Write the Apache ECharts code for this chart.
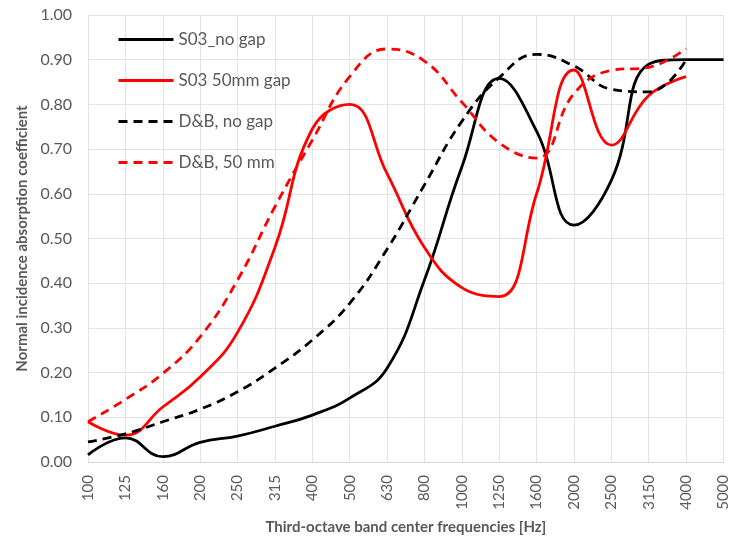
<!DOCTYPE html>
<html>
<head>
<meta charset="utf-8">
<script src="https://cdn.jsdelivr.net/npm/echarts@6/dist/echarts.min.js"></script>
<style>html,body{margin:0;padding:0;background:#fff}#c{width:731px;height:542px}</style>
</head>
<body>
<div id="c"></div>
<script>
var categories = ['100','125','160','200','250','315','400','500','630','800','1000','1250','1600','2000','2500','3150','4000','5000'];
var s03NoGap   = [0.016,0.054,0.012,0.044,0.058,0.080,0.105,0.143,0.210,0.407,0.660,0.858,0.740,0.530,0.630,0.890,0.900,0.900];
var s03Gap50   = [0.090,0.060,0.123,0.190,0.290,0.480,0.745,0.800,0.645,0.480,0.390,0.370,0.600,0.877,0.709,0.820,0.862,null];
var dbNoGap    = [0.045,0.063,0.090,0.118,0.157,0.210,0.273,0.355,0.476,0.620,0.762,0.860,0.912,0.886,0.834,0.828,0.900,null];
var db50       = [0.090,0.140,0.198,0.280,0.407,0.571,0.720,0.862,0.924,0.897,0.805,0.714,0.680,0.824,0.876,0.883,0.925,null];
var yTicks = [0,0.1,0.2,0.3,0.4,0.5,0.6,0.7,0.8,0.9,1.0];

var chart = echarts.init(document.getElementById('c'), null, {renderer:'canvas'});
var txt = '#595959';
var font = 'Lato, "Open Sans", sans-serif';
function ser(name, data, color, dashed) {
  return {
    name: name, type: 'line', data: data, smooth: 0.45, symbol: 'none',
    connectNulls: false,
    lineStyle: {color: color, width: 2.8, type: dashed ? [9, 6] : 'solid', cap: 'butt'},
    itemStyle: {color: color}
  };
}
chart.setOption({
  animation: false,
  textStyle: {fontFamily: font},
  grid: {left: 88, right: 5, top: 15, bottom: 80, containLabel: false},
  legend: {
    orient: 'vertical', left: 112, top: 26, itemWidth: 55, itemHeight: 14, itemGap: 24,
    itemStyle: {opacity: 0},
    lineStyle: {width: 3},
    textStyle: {color: txt, fontSize: 17, fontFamily: font},
    data: ['S03_no gap','S03 50mm gap','D&B, no gap','D&B, 50 mm']
  },
  xAxis: {
    type: 'category', data: categories, boundaryGap: false,
    name: 'Third-octave band center frequencies [Hz]', nameLocation: 'middle', nameGap: 58,
    nameTextStyle: {color: txt, fontSize: 15, fontWeight: 'bold', fontFamily: font},
    axisLine: {show: true, lineStyle: {color: '#d9d9d9', width: 1}},
    axisTick: {show: false},
    axisLabel: {rotate: 90, color: txt, fontSize: 15, margin: 13, interval: 0, fontFamily: font},
    splitLine: {show: true, interval: 0, lineStyle: {color: '#e3e3e3', width: 1}}
  },
  yAxis: {
    type: 'value', min: 0, max: 1, interval: 0.1,
    name: 'Normal incidence absorption coefficient', nameLocation: 'middle', nameGap: 58,
    nameTextStyle: {color: txt, fontSize: 15, fontWeight: 'bold', fontFamily: font},
    axisLine: {show: false},
    axisTick: {show: false},
    axisLabel: {color: txt, fontSize: 16, margin: 16, fontFamily: font,
      formatter: function (v) { return v.toFixed(2); }},
    splitLine: {show: true, lineStyle: {color: '#e3e3e3', width: 1}}
  },
  series: [
    ser('S03_no gap', s03NoGap, '#000000', false),
    ser('S03 50mm gap', s03Gap50, '#ff0000', false),
    ser('D&B, no gap', dbNoGap, '#000000', true),
    ser('D&B, 50 mm', db50, '#ff0000', true)
  ]
});
</script>
</body>
</html>
